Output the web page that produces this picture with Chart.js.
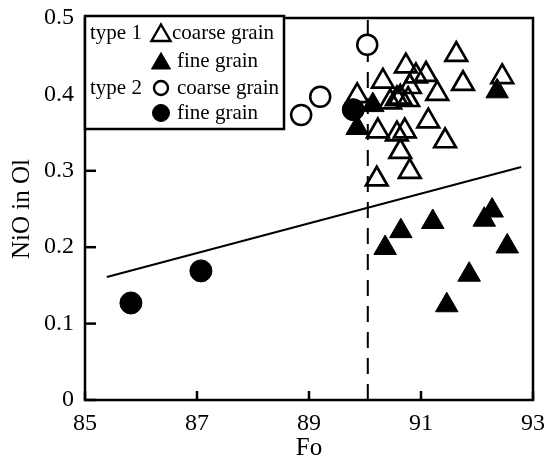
<!DOCTYPE html>
<html>
<head>
<meta charset="utf-8">
<script src="https://cdn.jsdelivr.net/npm/chart.js@4/dist/chart.umd.min.js"></script>
<style>
  html, body { margin: 0; padding: 0; background: #fff; }
  #wrap { width: 544px; height: 464px; }
</style>
</head>
<body>
<div id="wrap"><canvas id="chart" width="544" height="464"></canvas></div>
<script>
// data
const xTicks = [85, 87, 89, 91, 93];
const yTicks = [0, 0.1, 0.2, 0.3, 0.4, 0.5];

const type1CoarseFo  = [89.86, 90.32, 90.73, 90.91, 91.09, 91.29, 91.63, 91.75, 92.45, 90.80, 90.63,
                        90.45, 90.77, 90.57, 90.23, 90.57, 90.71, 91.13, 91.43, 90.63, 90.80, 90.21];
const type1CoarseNiO = [0.398, 0.417, 0.437, 0.424, 0.426, 0.401, 0.452, 0.414, 0.423, 0.410, 0.396,
                        0.390, 0.393, 0.394, 0.352, 0.348, 0.352, 0.365, 0.339, 0.325, 0.299, 0.289];

const type1FineFo  = [90.36, 90.64, 91.21, 92.13, 92.27, 92.54, 91.86, 91.46, 92.36, 90.14, 89.86];
const type1FineNiO = [0.199, 0.221, 0.233, 0.236, 0.248, 0.201, 0.164, 0.124, 0.404, 0.386, 0.356];

const type2CoarseFo  = [90.04, 89.20, 88.86];
const type2CoarseNiO = [0.465, 0.397, 0.373];

const type2FineFo  = [85.82, 87.07, 89.79];
const type2FineNiO = [0.127, 0.169, 0.380];

const trendFo  = [85.39, 92.79];
const trendNiO = [0.161, 0.305];

const boundaryFo  = [90.05, 90.05];
const boundaryNiO = [0, 0.5];

const legendRows = [
  { group: 'type 1', label: 'coarse grain', style: 'triangle', filled: false },
  { group: '',       label: 'fine grain',   style: 'triangle', filled: true },
  { group: 'type 2', label: 'coarse grain', style: 'circle',   filled: false },
  { group: '',       label: 'fine grain',   style: 'circle',   filled: true }
];

const FONT = "'Liberation Serif', 'DejaVu Serif', serif";

function toPoints(xs, ys) {
  return xs.map((x, i) => ({ x: x, y: ys[i] }));
}

// frame + inward ticks
const framePlugin = {
  id: 'frame',
  beforeDatasetsDraw(chart) {
    const { ctx, chartArea: a, scales } = chart;
    ctx.save();
    ctx.strokeStyle = '#000';
    ctx.lineWidth = 2.5;
    xTicks.forEach(v => {
      const px = scales.x.getPixelForValue(v);
      ctx.beginPath();
      ctx.moveTo(px, a.bottom);
      ctx.lineTo(px, a.bottom - 9);
      ctx.stroke();
    });
    yTicks.forEach(v => {
      const py = scales.y.getPixelForValue(v);
      ctx.beginPath();
      ctx.moveTo(a.left, py);
      ctx.lineTo(a.left + 11, py);
      ctx.stroke();
    });
    ctx.lineWidth = 2.5;
    ctx.strokeRect(a.left, a.top, a.right - a.left, a.bottom - a.top);
    ctx.restore();
  }
};

// boxed legend in the upper left corner
const legendPlugin = {
  id: 'boxLegend',
  afterDraw(chart) {
    const { ctx, chartArea: a } = chart;
    const boxW = 199, boxH = 113;
    const rowY = [33, 61, 88, 113];
    ctx.save();
    ctx.fillStyle = '#fff';
    ctx.fillRect(a.left, a.top - 2, boxW, boxH);
    ctx.strokeStyle = '#000';
    ctx.lineWidth = 2.5;
    ctx.strokeRect(a.left, a.top - 2, boxW, boxH);

    ctx.font = '21px ' + FONT;
    ctx.textBaseline = 'middle';
    legendRows.forEach((row, i) => {
      const y = rowY[i];
      ctx.fillStyle = '#000';
      ctx.textAlign = 'left';
      if (row.group) ctx.fillText(row.group, a.left + 5, y);

      const tri = row.style === 'triangle';
      ctx.fillStyle = row.filled ? '#000' : '#fff';
      ctx.strokeStyle = '#000';
      ctx.lineWidth = row.filled ? 1 : 2.4;
      Chart.helpers.drawPoint(ctx, {
        pointStyle: row.style,
        radius: tri ? 11 : (row.filled ? 8.5 : 7),
        borderWidth: ctx.lineWidth,
        rotation: 0
      }, a.left + 76, tri ? y + 2.5 : y);

      ctx.fillStyle = '#000';
      ctx.fillText(row.label, a.left + (tri && !row.filled ? 87 : 92), y);
    });
    ctx.restore();
  }
};

new Chart(document.getElementById('chart'), {
  type: 'scatter',
  data: {
    datasets: [
      {
        label: 'type 2 fine grain',
        data: toPoints(type2FineFo, type2FineNiO),
        pointStyle: 'circle',
        pointRadius: 11,
        backgroundColor: '#000',
        borderColor: '#000',
        borderWidth: 1,
        order: 1
      },
      {
        label: 'type 2 coarse grain',
        data: toPoints(type2CoarseFo, type2CoarseNiO),
        pointStyle: 'circle',
        pointRadius: 10,
        backgroundColor: '#fff',
        borderColor: '#000',
        borderWidth: 2.5,
        order: 2
      },
      {
        label: 'type 1 fine grain',
        data: toPoints(type1FineFo, type1FineNiO),
        pointStyle: 'triangle',
        pointRadius: 13,
        backgroundColor: '#000',
        borderColor: '#000',
        borderWidth: 1,
        order: 3
      },
      {
        label: 'type 1 coarse grain',
        data: toPoints(type1CoarseFo, type1CoarseNiO),
        pointStyle: 'triangle',
        pointRadius: 12.5,
        backgroundColor: 'rgba(255,255,255,0)',
        borderColor: '#000',
        borderWidth: 2.7,
        order: 4
      },
      {
        label: 'trend',
        type: 'line',
        data: toPoints(trendFo, trendNiO),
        borderColor: '#000',
        borderWidth: 2,
        pointRadius: 0,
        fill: false,
        order: 5
      },
      {
        label: 'Fo 90',
        type: 'line',
        data: toPoints(boundaryFo, boundaryNiO),
        borderColor: '#000',
        borderWidth: 2,
        borderDash: [16, 10],
        pointRadius: 0,
        fill: false,
        order: 6
      }
    ]
  },
  options: {
    responsive: false,
    animation: false,
    devicePixelRatio: 1,
    layout: { autoPadding: false, padding: { left: 0, right: 11, top: 18, bottom: 0 } },
    plugins: {
      legend: { display: false },
      tooltip: { enabled: false }
    },
    scales: {
      x: {
        type: 'linear',
        min: 85,
        max: 93,
        afterFit: s => { s.height = 64; s.paddingLeft = 0; s.paddingRight = 0; },
        grid: { display: false, drawTicks: false },
        border: { display: false },
        ticks: {
          stepSize: 2,
          padding: 9,
          color: '#000',
          font: { family: FONT, size: 24 }
        },
        title: {
          display: true,
          text: 'Fo',
          color: '#000',
          font: { family: FONT, size: 25 },
          padding: { top: 0, bottom: 1 }
        }
      },
      y: {
        type: 'linear',
        min: 0,
        max: 0.5,
        afterFit: s => { s.width = 85; s.paddingTop = 0; s.paddingBottom = 0; },
        grid: { display: false, drawTicks: false },
        border: { display: false },
        ticks: {
          stepSize: 0.1,
          padding: 11,
          color: '#000',
          font: { family: FONT, size: 24 },
          callback: v => (v === 0 ? '0' : v.toFixed(1))
        },
        title: {
          display: true,
          text: 'NiO in Ol',
          color: '#000',
          font: { family: FONT, size: 25 },
          padding: { top: 7, bottom: 0 }
        }
      }
    }
  },
  plugins: [framePlugin, legendPlugin]
});
</script>
</body>
</html>
